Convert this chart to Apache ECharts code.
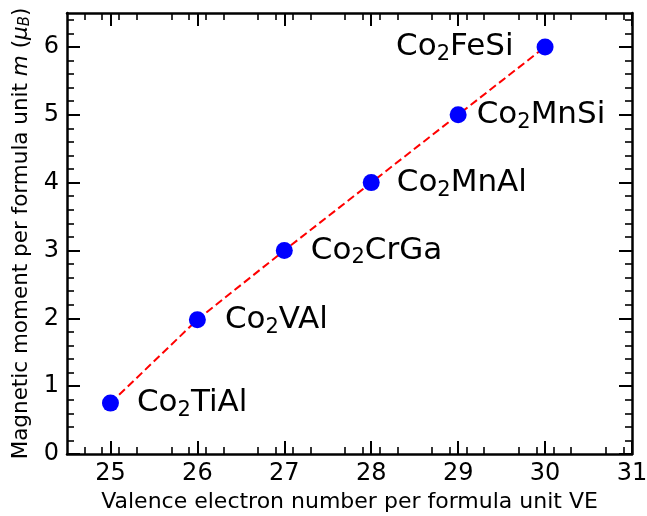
<!DOCTYPE html>
<html><head><meta charset="utf-8">
<script src="https://cdn.jsdelivr.net/npm/echarts@6/dist/echarts.min.js"></script>
<style>html,body{margin:0;padding:0;background:#fff}#c{width:647px;height:516px}</style>
</head><body><div id="c"></div>
<script>
const valenceElectrons = [25, 26, 27, 28, 29, 30];
const magneticMoment = [0.75, 1.98, 3.0, 4.0, 5.0, 6.0];
const compoundBase = [['Co','TiAl'], ['Co','VAl'], ['Co','CrGa'], ['Co','MnAl'], ['Co','MnSi'], ['Co','FeSi']];
const labelSide = ['right','right','right','right','right','left'];
const labelGap = [18, 19, 18, 17, 10, 23];
const xTicks = [25, 26, 27, 28, 29, 30, 31];
const yTicks = [0, 1, 2, 3, 4, 5, 6];

const FONT = 'DejaVu Sans';
const chart = echarts.init(document.getElementById('c'));
const labelRich = {
  n: {fontSize: 31, fontFamily: FONT, color: '#000', lineHeight: 36, verticalAlign: 'middle'},
  s: {fontSize: 21, fontFamily: FONT, color: '#000', lineHeight: 36, verticalAlign: 'bottom'}
};
const pts = valenceElectrons.map((x, i) => ({
  value: [x, magneticMoment[i]],
  name: compoundBase[i][0] + '2' + compoundBase[i][1],
  label: {show: true, position: labelSide[i], distance: labelGap[i],
    formatter: '{n|' + compoundBase[i][0] + '}{s|2}{n|' + compoundBase[i][1] + '}', rich: labelRich}
}));

function axisBase(pos, showLabel, min, max, extra) {
  return Object.assign({
    type: 'value', position: pos, min: min, max: max, interval: 1,
    axisLine: {show: true, onZero: false, lineStyle: {color: '#000', width: 2.5}},
    axisTick: {show: true, inside: true, length: 13, lineStyle: {color: '#000', width: 2}},
    minorTick: {show: true, splitNumber: 5, length: 7, lineStyle: {color: '#000', width: 1.6}},
    splitLine: {show: false}, minorSplitLine: {show: false},
    axisLabel: {show: showLabel, fontSize: 24, fontFamily: FONT, color: '#000', margin: 8,
      showMinLabel: true, showMaxLabel: true}
  }, extra || {});
}

chart.setOption({
  animation: false,
  grid: {left: 67, right: 15, top: 13, bottom: 62, containLabel: false, outerBoundsMode: 'none'},
  xAxis: [
    axisBase('bottom', true, 24.5, 31, {
      name: 'Valence electron number per formula unit VE', nameLocation: 'middle', nameGap: 34,
      nameTextStyle: {fontSize: 22, fontFamily: FONT, color: '#000'},
      axisLabel: {show: true, fontSize: 24, fontFamily: FONT, color: '#000', margin: 8,
        customValues: xTicks, formatter: v => String(v)},
      axisTick: {show: true, inside: true, length: 13, lineStyle: {color: '#000', width: 2}, customValues: xTicks}
    }),
    axisBase('top', false, 24.5, 31, {
      axisTick: {show: true, inside: true, length: 13, lineStyle: {color: '#000', width: 2}, customValues: xTicks}
    })
  ],
  yAxis: [
    axisBase('left', true, 0, 6.5, {
      name: 'Magnetic moment per formula unit {i|m} ({i|μ}{b|B})', nameLocation: 'middle', nameGap: 33,
      nameTextStyle: {fontSize: 21.5, fontFamily: FONT, color: '#000',
        rich: {i: {fontSize: 21.5, fontStyle: 'italic', fontFamily: FONT, color: '#000'},
               b: {fontSize: 15, fontStyle: 'italic', fontFamily: FONT, color: '#000', verticalAlign: 'bottom'}}},
      axisLabel: {show: true, fontSize: 24, fontFamily: FONT, color: '#000', margin: 8,
        customValues: yTicks, formatter: v => String(v)},
      axisTick: {show: true, inside: true, length: 13, lineStyle: {color: '#000', width: 2}, customValues: yTicks}
    }),
    axisBase('right', false, 0, 6.5, {
      axisTick: {show: true, inside: true, length: 13, lineStyle: {color: '#000', width: 2}, customValues: yTicks}
    })
  ],
  series: [{
    type: 'line', data: pts, symbol: 'circle', symbolSize: 17,
    itemStyle: {color: '#0000ff'},
    lineStyle: {color: '#ff0000', width: 2, type: [8, 4]},
    z: 3
  }]
});
</script></body></html>
